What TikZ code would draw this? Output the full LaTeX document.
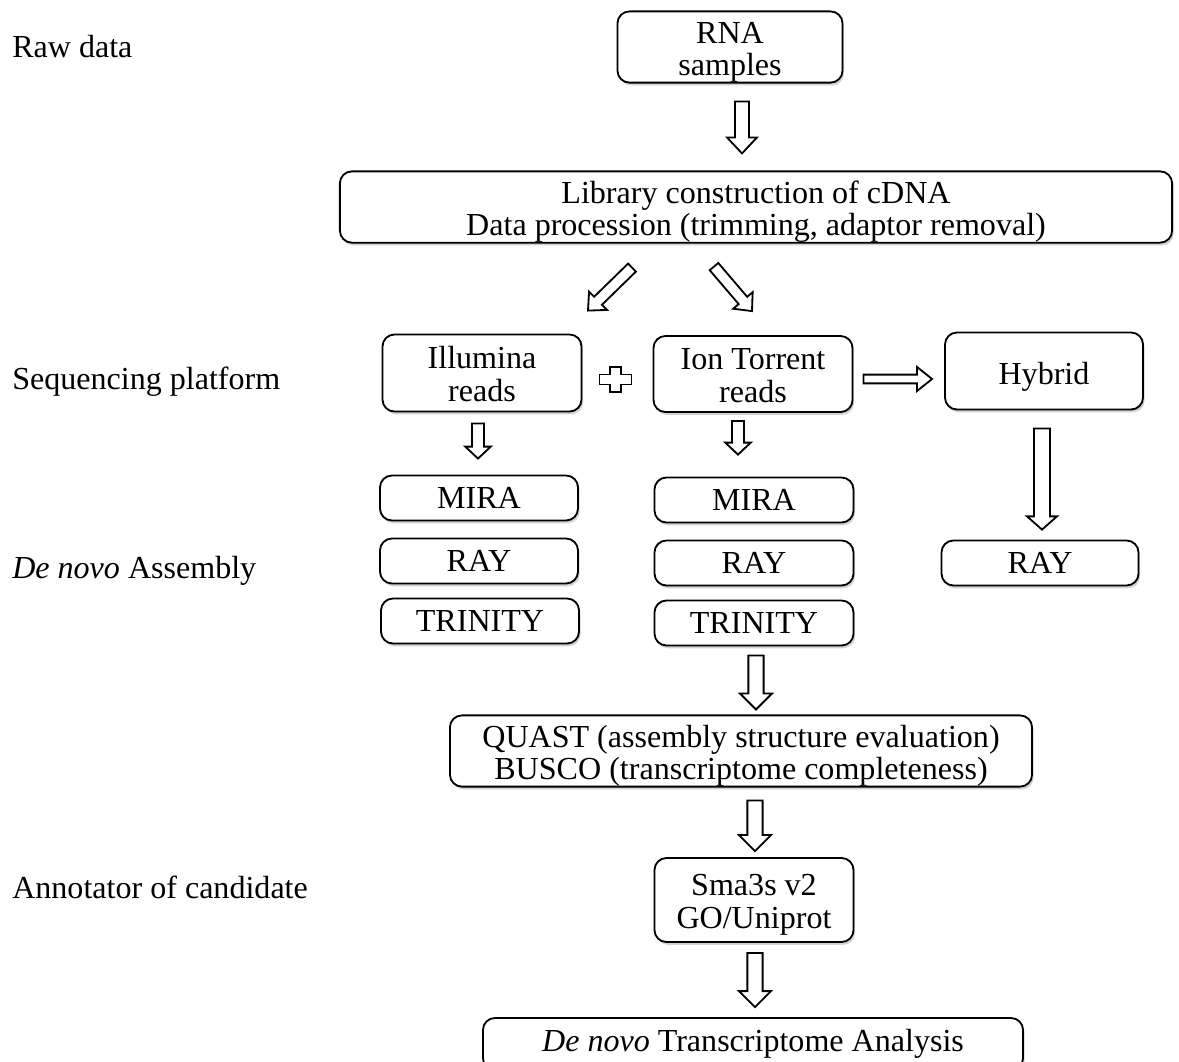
\documentclass[tikz,border=0pt]{standalone}
\usepackage{fontspec}
\setmainfont{Liberation Serif}
\usepackage{tikz}
\usetikzlibrary{
    calc,
    shadows,
    positioning
}
\tikzset{stage/.style={draw=black, line width=1.3pt, fill=white, rounded corners=0.3cm, align=center, inner sep=0pt,
        drop shadow={shadow xshift=0.04cm, shadow yshift=-0.07cm, opacity=0.35}}}
\tikzset{rowlabel/.style={anchor=west, inner sep=0pt}}
\tikzset{fatline/.style={draw=black, line width=1.3pt, fill=white, line join=miter}}
\newcommand{\lift}[1]{\rule{0pt}{#1}}
\newcommand{\fatarrow}[5]{
    \coordinate (fa-a) at #4;
    \coordinate (fa-b) at #5;
    \coordinate (fa-c) at ($(fa-b)!#3!(fa-a)$);
    \draw[fatline] ($(fa-a)!#1!90:(fa-b)$) -- ($(fa-c)!#1!-90:(fa-a)$) -- ($(fa-c)!#2!-90:(fa-a)$)
        -- (fa-b) -- ($(fa-c)!#2!90:(fa-a)$) -- ($(fa-c)!#1!90:(fa-a)$) -- ($(fa-a)!#1!-90:(fa-b)$) -- cycle;
}

\begin{document}
\begin{tikzpicture}[x=0.025cm, y=-0.025cm, font=\fontsize{22.8pt}{23pt}\selectfont]
                        \clip (0, 0) rectangle (1179, 1061);
                        \fill[white] (0, 0) rectangle (1179, 1061);

                        \node[rowlabel] (raw) at (12, 47) {Raw data};
                        \node[rowlabel] (seq) at (12, 382) {Sequencing platform};
                        \node[rowlabel] (asm) at (12, 571) {\textit{De novo} Assembly};
                        \node[rowlabel] (ann) at (12, 887) {Annotator of candidate};

                        \node[stage, minimum width=5.625cm, minimum height=1.725cm] (rna) at (730, 47) {\lift{1.0em}RNA\\samples};
                        \node[stage, minimum width=20.8cm, minimum height=1.775cm] (lib) at (756, 207)
                            {\lift{1.0em}Library construction of cDNA\\Data procession (trimming, adaptor removal)};

                        \node[stage, minimum width=4.975cm, minimum height=1.925cm] (illu) at (482, 373) {\lift{0.75em}Illumina\\reads};
                        \node[stage, minimum width=4.975cm, minimum height=1.9cm] (ion) at (753, 374) {\lift{0.75em}Ion Torrent\\reads};
                        \node[stage, minimum width=4.95cm, minimum height=1.925cm] (hyb) at (1044, 371) {\lift{1.05em}Hybrid};

                        \node[stage, minimum width=4.95cm, minimum height=1.125cm] (mira1) at (479, 498) {MIRA};
                        \node[stage, minimum width=4.95cm, minimum height=1.125cm] (ray1) at (479, 561) {RAY};
                        \node[stage, minimum width=4.95cm, minimum height=1.125cm] (trin1) at (480, 621) {TRINITY};
                        \node[stage, minimum width=4.975cm, minimum height=1.125cm] (mira2) at (754, 500) {MIRA};
                        \node[stage, minimum width=4.975cm, minimum height=1.125cm] (ray2) at (754, 563) {RAY};
                        \node[stage, minimum width=4.975cm, minimum height=1.125cm] (trin2) at (754, 623) {TRINITY};
                        \node[stage, minimum width=4.925cm, minimum height=1.125cm] (ray3) at (1040, 563) {RAY};

                        \node[stage, minimum width=14.55cm, minimum height=1.7cm] (quast) at (741, 751)
                            {\lift{1.0em}QUAST (assembly structure evaluation)\\BUSCO (transcriptome completeness)};
                        \node[stage, minimum width=4.975cm, minimum height=2.1cm] (sma) at (754, 900) {\lift{0.95em}Sma3s v2\\GO/Uniprot};
                        \node[stage, minimum width=13.5cm, minimum height=1.3cm] (denovo) at (753, 1044)
                            {\textit{De novo} Transcriptome Analysis};

                        \fatarrow{0.175cm}{0.375cm}{0.4cm}{($(rna.south)+(12, 18)$)}{($(lib.north)+(-14, -17)$)}
                        \fatarrow{0.14cm}{0.32cm}{0.35cm}{($(lib.south)+(-124, 24)$)}{($(illu.north)+(106, -23)$)}
                        \fatarrow{0.14cm}{0.32cm}{0.35cm}{($(lib.south)+(-42, 23)$)}{($(ion.north)+(-1, -24)$)}
                        \fatarrow{0.11cm}{0.3cm}{0.375cm}{($(ion.east)+(10, 5)$)}{($(hyb.west)+(-12, 8)$)}
                        \fatarrow{0.15cm}{0.32cm}{0.3cm}{($(illu.south)+(-4, 11)$)}{($(mira1.north)+(-1, -16)$)}
                        \fatarrow{0.15cm}{0.32cm}{0.3cm}{($(ion.south)+(-15, 8)$)}{($(mira2.north)+(-16, -22)$)}
                        \fatarrow{0.2cm}{0.375cm}{0.33cm}{($(hyb.south)+(-2, 18)$)}{($(ray3.north)+(2, -10)$)}
                        \fatarrow{0.19cm}{0.4cm}{0.4cm}{($(trin2.south)+(2, 9)$)}{($(quast.north)+(15, -5)$)}
                        \fatarrow{0.19cm}{0.4cm}{0.4cm}{($(quast.south)+(14, 13)$)}{($(sma.north)+(1, -6)$)}
                        \fatarrow{0.19cm}{0.4cm}{0.4cm}{($(sma.south)+(1, 10)$)}{($(denovo.north)+(2, -10)$)}

                        \coordinate (plus) at ($(illu.east)!0.5!(ion.west)+(-2, 6)$);
                        \begin{scope}[shift={(plus)}]
                            \draw[fatline] (-5.5, -12.5) -- (5.5, -12.5) -- (5.5, -5) -- (16, -5) -- (16, 5) -- (5.5, 5)
                                -- (5.5, 12.5) -- (-5.5, 12.5) -- (-5.5, 5) -- (-16, 5) -- (-16, -5) -- (-5.5, -5) -- cycle;
                        \end{scope}
                    \end{tikzpicture}
\end{document}
